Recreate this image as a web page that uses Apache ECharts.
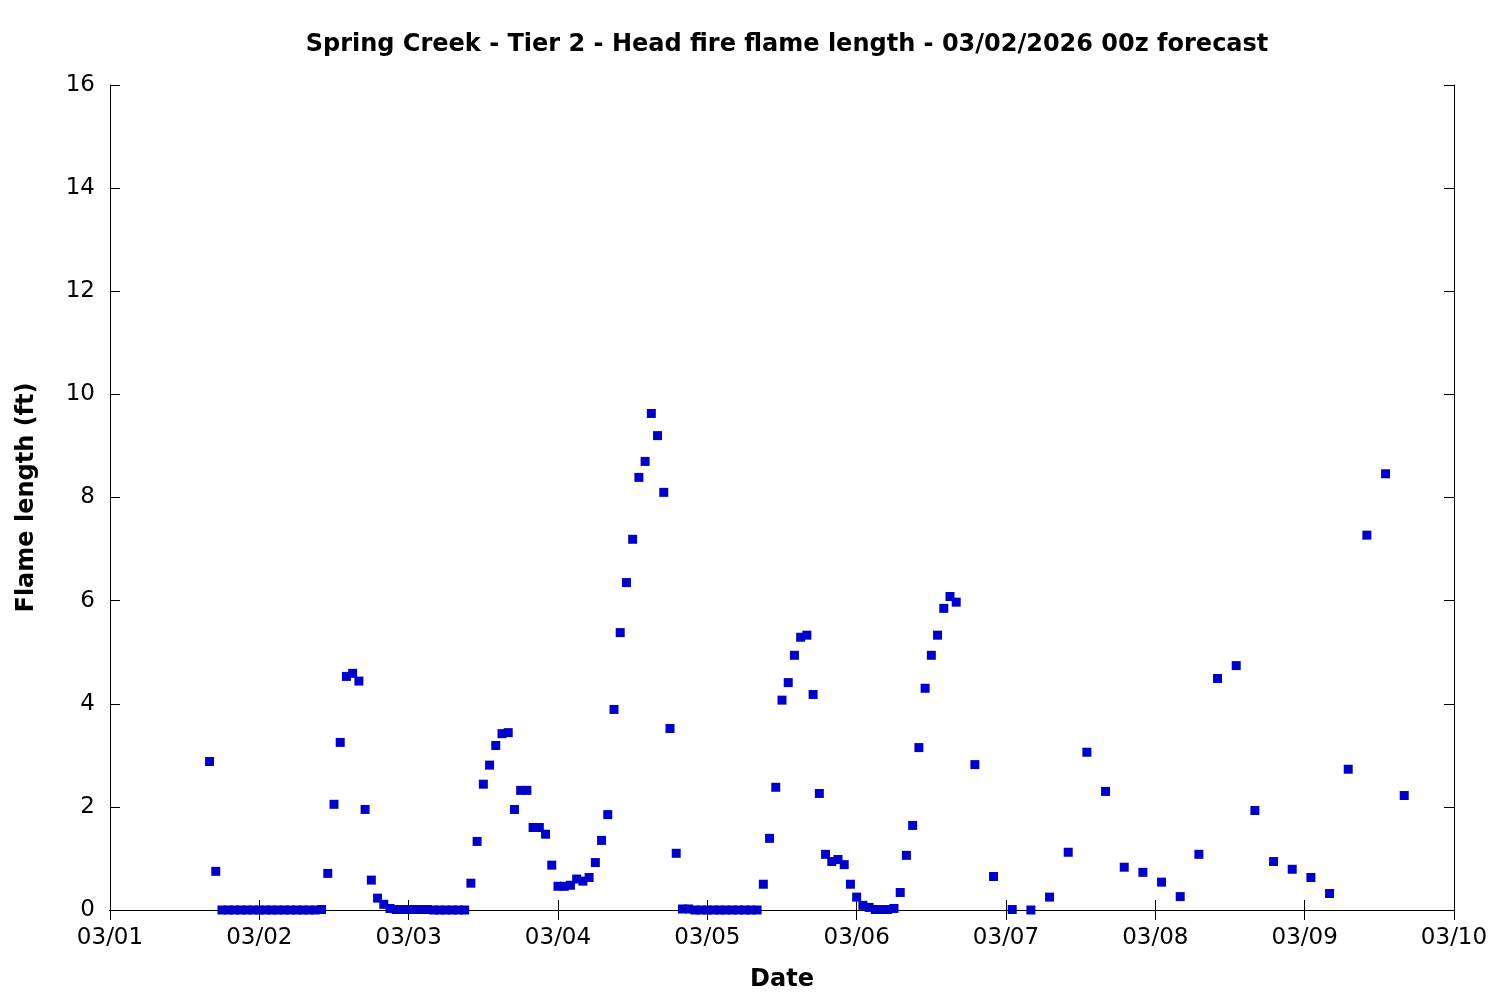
<!DOCTYPE html>
<html>
<head>
<meta charset="utf-8">
<title>Spring Creek - Tier 2 - Head fire flame length</title>
<script src="https://cdn.jsdelivr.net/npm/echarts@6/dist/echarts.min.js"></script>
<style>
  html, body { margin: 0; padding: 0; background: #fff; }
  #chart { width: 1500px; height: 1000px; }
</style>
</head>
<body>
<div id="chart"></div>
<script>
// hourly values, starting 03/01 16z
const hourlyStart = Date.UTC(2026, 2, 1, 16)
const hourlyFlame = [
  2.88, 0.75,
  0, 0, 0, 0, 0, 0, 0, 0, 0, 0, 0, 0, 0, 0, 0, 0,
  0.01, 0.71, 2.05, 3.25, 4.53, 4.59, 4.44, 1.95, 0.58, 0.23, 0.11, 0.03,
  0.01, 0.01, 0.01, 0.01, 0.01, 0.01, 0, 0, 0, 0, 0, 0,
  0.52, 1.33, 2.44, 2.81, 3.19, 3.42, 3.44, 1.95, 2.32, 2.32, 1.60, 1.60,
  1.47, 0.87, 0.46, 0.46, 0.48, 0.60, 0.56, 0.63, 0.92, 1.35, 1.85, 3.89,
  5.38, 6.35, 7.19, 8.39, 8.70, 9.63, 9.20, 8.10, 3.52, 1.10, 0.02, 0.02,
  0, 0, 0, 0, 0, 0, 0, 0, 0, 0, 0,
  0.50, 1.39, 2.38, 4.07, 4.41, 4.94, 5.29, 5.33, 4.18, 2.26, 1.08, 0.94,
  0.98, 0.88, 0.50, 0.25, 0.09, 0.05, 0.01, 0.01, 0.01, 0.03, 0.34, 1.06,
  1.64, 3.15, 4.30, 4.94, 5.33, 5.85, 6.08, 5.97
]
// 3-hourly values, starting 03/06 19z
const threeHourlyStart = Date.UTC(2026, 2, 6, 19)
const threeHourlyFlame = [
  2.82, 0.65, 0.01, 0, 0.25, 1.12, 3.06, 2.30, 0.83, 0.73, 0.54, 0.26,
  1.08, 4.49, 4.74, 1.93, 0.94, 0.79, 0.63, 0.32, 2.73, 7.27, 8.46, 2.22
]
const yTicks = [0, 2, 4, 6, 8, 10, 12, 14, 16]

const HOUR = 3600 * 1000
const DAY = 24 * HOUR
const xMin = Date.UTC(2026, 2, 1)
const xMax = Date.UTC(2026, 2, 10)

const points = []
hourlyFlame.forEach((v, i) => points.push([hourlyStart + i * HOUR, v]))
threeHourlyFlame.forEach((v, i) => points.push([threeHourlyStart + i * 3 * HOUR, v]))

function dayLabel(ms) {
  const d = new Date(ms)
  const mm = String(d.getUTCMonth() + 1).padStart(2, '0')
  const dd = String(d.getUTCDate()).padStart(2, '0')
  return mm + '/' + dd
}

const font = 'DejaVu Sans'
const axisLine = { show: true, lineStyle: { color: '#000', width: 1 } }
const tick = { show: true, inside: true, length: 10, lineStyle: { color: '#000', width: 1 } }
const nameStyle = { fontFamily: font, fontSize: 24, fontWeight: 'bold', color: '#000' }

const chart = echarts.init(document.getElementById('chart'))
chart.setOption({
  backgroundColor: '#fff',
  animation: false,
  title: {
    text: 'Spring Creek - Tier 2 - Head fire flame length - 03/02/2026 00z forecast',
    left: 782, top: 28, textAlign: 'center',
    textStyle: nameStyle
  },
  grid: { left: 110, right: 46, top: 85, bottom: 90 },
  xAxis: [{
    type: 'value', min: xMin, max: xMax, interval: DAY,
    name: 'Date', nameLocation: 'middle', nameGap: 58,
    nameTextStyle: nameStyle,
    axisLine, axisTick: tick, splitLine: { show: false },
    axisLabel: { formatter: dayLabel, fontFamily: font, fontSize: 23, color: '#000', margin: 17 }
  }, {
    type: 'value', position: 'top', min: xMin, max: xMax, interval: DAY,
    axisLine, axisTick: tick, splitLine: { show: false }, axisLabel: { show: false }
  }],
  yAxis: [{
    type: 'value', min: yTicks[0], max: yTicks[yTicks.length - 1], interval: 2,
    name: 'Flame length (ft)', nameLocation: 'middle', nameGap: 71,
    nameTextStyle: nameStyle,
    axisLine, axisTick: tick, splitLine: { show: false },
    axisLabel: { fontFamily: font, fontSize: 23, color: '#000', margin: 15 }
  }, {
    type: 'value', position: 'right', min: yTicks[0], max: yTicks[yTicks.length - 1], interval: 2,
    axisLine, axisTick: tick, splitLine: { show: false }, axisLabel: { show: false }
  }],
  series: [{
    type: 'scatter',
    data: points,
    symbol: 'rect',
    symbolSize: 9,
    itemStyle: { color: '#0000c8', opacity: 1 },
    clip: false
  }]
})
</script>
</body>
</html>
